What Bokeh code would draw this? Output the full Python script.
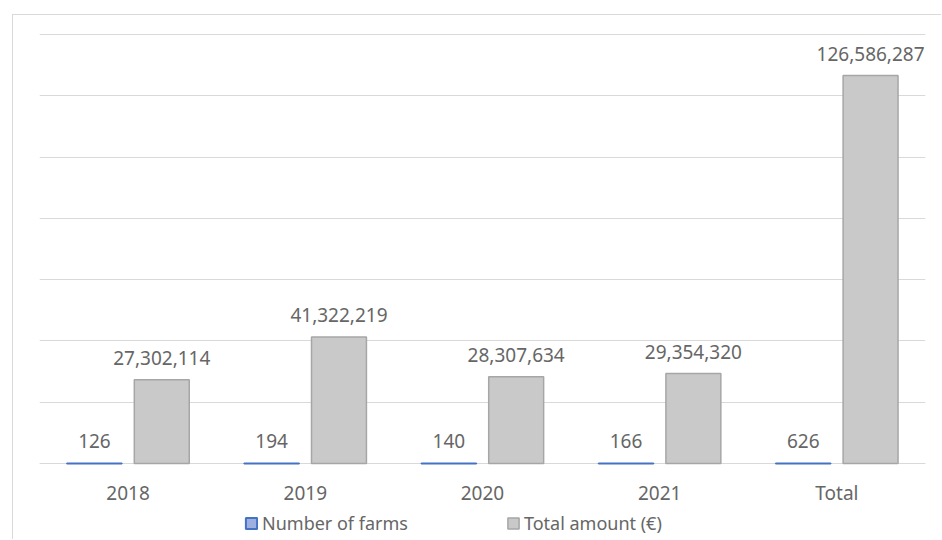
from bokeh.plotting import figure
from bokeh.models import (FactorRange, Range1d, FixedTicker, ColumnDataSource, Legend, LegendItem)
from bokeh.transform import dodge
from bokeh.core.properties import value
from bokeh.embed import file_html
from bokeh.resources import INLINE

categories = ["2018", "2019", "2020", "2021", "Total"]
farms = [126, 194, 140, 166, 626]
amounts = [27302114, 41322219, 28307634, 29354320, 126586287]
grid_ticks = [0, 20e6, 40e6, 60e6, 80e6, 100e6, 120e6, 140e6]

FONT = "Noto Sans"
TXT = "#666666"

src = ColumnDataSource(dict(
    cat=categories, farms=farms, amounts=amounts,
    farms_lbl=[f"{v:,}" for v in farms],
    amounts_lbl=[f"{v:,}" for v in amounts],
))

W, H = 929, 525
TOP_GRID = 140e6
p = figure(x_range=FactorRange(*categories, range_padding=0),
           y_range=Range1d(-TOP_GRID * 77 / 429, TOP_GRID * 430 / 429),
           width=W, height=H, output_backend="svg", toolbar_location=None,
           min_border_left=26, min_border_right=17, min_border_top=18, min_border_bottom=0)
p.margin = (14, 0, 0, 12)
p.styles = {"border-left": "1px solid #d9d9d9", "border-top": "1px solid #d9d9d9"}
p.x_range.range_padding = 0
p.outline_line_color = None
p.background_fill_color = "white"
p.border_fill_color = "white"

p.yaxis.visible = False
p.ygrid.ticker = FixedTicker(ticks=grid_ticks)
p.ygrid.grid_line_color = "#d9d9d9"
p.ygrid.grid_line_width = 1
p.xgrid.grid_line_color = None

ax = p.xaxis[0]
ax.fixed_location = 0
ax.level = "underlay"
ax.axis_line_color = "#d9d9d9"
ax.major_tick_line_color = None
ax.minor_tick_line_color = None
ax.major_label_text_font = FONT
ax.major_label_text_font_size = "19px"
ax.major_label_text_color = TXT
ax.major_label_standoff = 10

off = 0.19
bw = 0.31
r1 = p.vbar(x=dodge("cat", -off, range=p.x_range), top="farms", width=bw, source=src,
            fill_color="#9db0e0", line_color="#4472c4", line_width=2)
r2 = p.vbar(x=dodge("cat", off, range=p.x_range), top="amounts", width=bw, source=src,
            fill_color="#c9c9c9", line_color="#a6a6a6", line_width=1.5)

p.text(x=dodge("cat", -off, range=p.x_range), y="farms", text="farms_lbl", source=src,
       text_font=value(FONT), text_font_size="19px", text_color=TXT,
       text_align="center", text_baseline="alphabetic", y_offset=-22)
p.text(x=dodge("cat", off, range=p.x_range), y="amounts", text="amounts_lbl", source=src,
       text_font=value(FONT), text_font_size="19px", text_color=TXT,
       text_align="center", text_baseline="alphabetic", y_offset=-22)

legend = Legend(items=[LegendItem(label="Number of farms", renderers=[r1]),
                       LegendItem(label="Total amount (€)", renderers=[r2])],
                orientation="horizontal", location=(205, 5),
                label_text_font=FONT, label_text_font_size="18px", label_text_color=TXT,
                glyph_width=14, glyph_height=14, label_standoff=4, spacing=98,
                padding=0, margin=0, border_line_color=None, background_fill_alpha=0)
p.add_layout(legend, "center")

open("out.html", "w").write(file_html(p, INLINE))
